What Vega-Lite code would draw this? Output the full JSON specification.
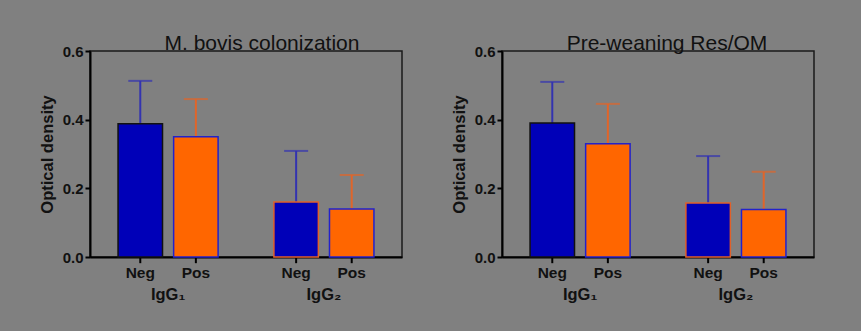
{
  "$schema": "https://vega.github.io/schema/vega-lite/v6.json",
  "background": "#808080",
  "padding": {"left": 38, "top": 32, "right": 46, "bottom": 30},
  "spacing": 47,
  "datasets": {
    "od": [
      {"panel": "A", "isotype": "IgG₁", "status": "Neg", "bar": "IgG1 Neg", "mean": 0.388, "upper": 0.513},
      {"panel": "A", "isotype": "IgG₁", "status": "Pos", "bar": "IgG1 Pos", "mean": 0.350, "upper": 0.460},
      {"panel": "A", "isotype": "IgG₂", "status": "Neg", "bar": "IgG2 Neg", "mean": 0.160, "upper": 0.309},
      {"panel": "A", "isotype": "IgG₂", "status": "Pos", "bar": "IgG2 Pos", "mean": 0.140, "upper": 0.239},
      {"panel": "B", "isotype": "IgG₁", "status": "Neg", "bar": "IgG1 Neg", "mean": 0.390, "upper": 0.510},
      {"panel": "B", "isotype": "IgG₁", "status": "Pos", "bar": "IgG1 Pos", "mean": 0.330, "upper": 0.446},
      {"panel": "B", "isotype": "IgG₂", "status": "Neg", "bar": "IgG2 Neg", "mean": 0.157, "upper": 0.294},
      {"panel": "B", "isotype": "IgG₂", "status": "Pos", "bar": "IgG2 Pos", "mean": 0.138, "upper": 0.248}
    ]
  },
  "config": {
    "font": "Liberation Sans",
    "view": {"stroke": "#1a1a1a", "strokeWidth": 1.5},
    "title": {"fontSize": 21, "fontWeight": "normal", "color": "#111111", "anchor": "middle", "frame": "group", "baseline": "alphabetic", "offset": -10},
    "axisX": {"domainColor": "#000000", "domainWidth": 2, "ticks": false, "labelFontSize": 16.5, "labelFontWeight": "bold", "labelColor": "#111111", "labelPadding": 29, "labelAngle": 0, "title": null},
    "axisY": {"domainColor": "#000000", "domainWidth": 2, "tickColor": "#000000", "tickWidth": 2, "tickSize": 5, "labelFontSize": 15, "labelFontWeight": "bold", "labelColor": "#111111", "labelPadding": 2, "titleFontSize": 16.5, "titleFontWeight": "bold", "titleColor": "#111111", "titlePadding": 7, "grid": false}
  },
  "hconcat": [
    {
      "width": 312, "height": 206,
      "title": {"text": "M. bovis colonization", "dx": 16},
      "data": {"name": "od"},
      "transform": [{"filter": "datum.panel === 'A'"}],
      "encoding": {
        "x": {"field": "isotype", "type": "nominal", "scale": {"paddingInner": 0.358, "paddingOuter": 0.18}},
        "xOffset": {"field": "status", "type": "nominal", "scale": {"paddingInner": 0.2, "paddingOuter": 0}}
      },
      "layer": [
        {"mark": {"type": "rule", "color": "#000000", "strokeWidth": 2}, "encoding": {"y": {"datum": 0, "type": "quantitative", "scale": {"domain": [0, 0.6], "nice": false}, "title": "Optical density", "axis": {"values": [0, 0.2, 0.4, 0.6], "format": ".1f"}}, "y2": {"datum": -0.018}}},
        {"mark": {"type": "rule", "strokeWidth": 2}, "encoding": {"y": {"field": "mean", "type": "quantitative", "title": "Optical density"}, "y2": {"field": "upper"}, "color": {"field": "status", "type": "nominal", "scale": {"domain": ["Neg", "Pos"], "range": ["#3333b0", "#e0652a"]}, "legend": null}}},
        {"mark": {"type": "tick", "size": 24, "thickness": 2}, "encoding": {"y": {"field": "upper", "type": "quantitative", "title": "Optical density"}, "color": {"field": "status", "type": "nominal", "legend": null}}},
        {"mark": {"type": "bar", "strokeWidth": 1.5}, "encoding": {"y": {"field": "mean", "type": "quantitative", "title": "Optical density"}, "fill": {"field": "status", "type": "nominal", "scale": {"domain": ["Neg", "Pos"], "range": ["#0000b8", "#ff6600"]}, "legend": null}, "stroke": {"field": "bar", "type": "nominal", "scale": {"domain": ["IgG1 Neg", "IgG1 Pos", "IgG2 Neg", "IgG2 Pos"], "range": ["#111111", "#2222cc", "#e0602a", "#2222cc"]}, "legend": null}}},
        {"mark": {"type": "text", "baseline": "top", "dy": 9, "fontSize": 15.5, "fontWeight": "bold", "color": "#111111"}, "encoding": {"y": {"datum": 0, "type": "quantitative", "title": "Optical density"}, "text": {"field": "status"}}}
      ]
    },
    {
      "width": 312, "height": 206,
      "title": {"text": "Pre-weaning Res/OM", "dx": 9},
      "data": {"name": "od"},
      "transform": [{"filter": "datum.panel === 'B'"}],
      "encoding": {
        "x": {"field": "isotype", "type": "nominal", "scale": {"paddingInner": 0.358, "paddingOuter": 0.18}},
        "xOffset": {"field": "status", "type": "nominal", "scale": {"paddingInner": 0.2, "paddingOuter": 0}}
      },
      "layer": [
        {"mark": {"type": "rule", "color": "#000000", "strokeWidth": 2}, "encoding": {"y": {"datum": 0, "type": "quantitative", "scale": {"domain": [0, 0.6], "nice": false}, "title": "Optical density", "axis": {"values": [0, 0.2, 0.4, 0.6], "format": ".1f"}}, "y2": {"datum": -0.018}}},
        {"mark": {"type": "rule", "strokeWidth": 2}, "encoding": {"y": {"field": "mean", "type": "quantitative", "title": "Optical density"}, "y2": {"field": "upper"}, "color": {"field": "status", "type": "nominal", "scale": {"domain": ["Neg", "Pos"], "range": ["#3333b0", "#e0652a"]}, "legend": null}}},
        {"mark": {"type": "tick", "size": 24, "thickness": 2}, "encoding": {"y": {"field": "upper", "type": "quantitative", "title": "Optical density"}, "color": {"field": "status", "type": "nominal", "legend": null}}},
        {"mark": {"type": "bar", "strokeWidth": 1.5}, "encoding": {"y": {"field": "mean", "type": "quantitative", "title": "Optical density"}, "fill": {"field": "status", "type": "nominal", "scale": {"domain": ["Neg", "Pos"], "range": ["#0000b8", "#ff6600"]}, "legend": null}, "stroke": {"field": "bar", "type": "nominal", "scale": {"domain": ["IgG1 Neg", "IgG1 Pos", "IgG2 Neg", "IgG2 Pos"], "range": ["#111111", "#2222cc", "#e0602a", "#2222cc"]}, "legend": null}}},
        {"mark": {"type": "text", "baseline": "top", "dy": 9, "fontSize": 15.5, "fontWeight": "bold", "color": "#111111"}, "encoding": {"y": {"datum": 0, "type": "quantitative", "title": "Optical density"}, "text": {"field": "status"}}}
      ]
    }
  ]
}
